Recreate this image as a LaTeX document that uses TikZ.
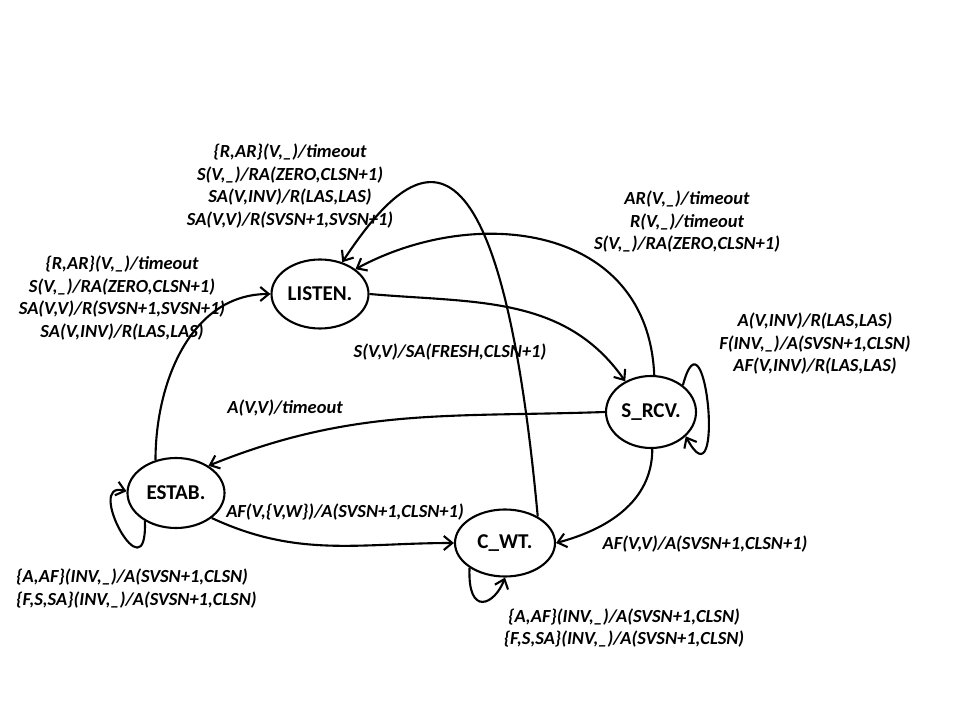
\documentclass[tikz,border=0pt]{standalone}
\usepackage{fontspec}
\setmainfont{Carlito}
\usetikzlibrary{shapes.geometric,arrows.meta}

\tikzset{
  state/.style={draw, ellipse, very thick, inner sep=0pt, minimum width=1.94cm, minimum height=1.38cm,
    font=\fontsize{12}{14}\selectfont\bfseries},
  lbl/.style={font=\fontsize{10.5}{12.8}\selectfont\bfseries\itshape, align=center},
  trans/.style={very thick, -{Straight Barb[length=1.7mm,width=2.8mm]}}
}

\begin{document}
\begin{tikzpicture}
    \useasboundingbox (0,0) rectangle (19.2,14.4);

    % The four states
    \node[state] (listen) at (6.40,8.52) {LISTEN.};
    \node[state, minimum width=1.80cm, minimum height=1.44cm] (srcv) at (13.02,6.16) {S\_RCV.};
    \node[state, minimum height=1.40cm] (estab) at (3.52,4.54) {ESTAB.};
    \node[state, minimum width=2.0cm, minimum height=1.34cm] (cwt) at (10.10,3.54) {C\_WT.};

    % Transitions between states
    \draw[trans] (estab.122) to[out=90,in=180] (listen.west);
    \draw[trans] (listen.east) to[out=-5,in=125] (srcv.130);
    \draw[trans] (srcv.85) .. controls +(-0.13,3.02) and +(2.4,1.3) .. (listen.35);
    \draw[trans] (cwt.39) .. controls +(-0.8,8.64) and +(1.37,2.07) .. (listen.55);
    \draw[trans] (srcv.west) to[out=182,in=22] (estab.40);
    \draw[trans] (estab.-35) to[out=-25,in=180] (cwt.west);
    \draw[trans] (srcv.-88) to[out=-90,in=15] (cwt.east);

    % Self loops
    \draw[trans] (estab.222) .. controls +(0.06,-1.56) and +(-0.86,0.24) .. (estab.178);
    \draw[trans] (cwt.215) .. controls +(-0.04,-1.0) and +(-0.2,-0.54) .. (cwt.-90);
    \draw[trans] (srcv.40) .. controls +(0.46,1.72) and +(0.8,-1.49) .. (srcv.-35);

    % Transition labels
    \node[lbl] (lblcl) at (5.80,10.68) {\{R,AR\}(V,\_)/timeout\\S(V,\_)/RA(ZERO,CLSN+1)\\SA(V,INV)/R(LAS,LAS)\\SA(V,V)/R(SVSN+1,SVSN+1)};
    \node[lbl] (lblel) at (2.44,8.44) {\{R,AR\}(V,\_)/timeout\\S(V,\_)/RA(ZERO,CLSN+1)\\SA(V,V)/R(SVSN+1,SVSN+1)\\SA(V,INV)/R(LAS,LAS)};
    \node[lbl] (lblsl) at (13.74,9.96) {AR(V,\_)/timeout\\R(V,\_)/timeout\\S(V,\_)/RA(ZERO,CLSN+1)};
    \node[lbl] (lblss) at (16.30,7.52) {A(V,INV)/R(LAS,LAS)\\F(INV,\_)/A(SVSN+1,CLSN)\\AF(V,INV)/R(LAS,LAS)};
    \node[lbl] (lblls) at (9.00,7.36) {S(V,V)/SA(FRESH,CLSN+1)};
    \node[lbl] (lblse) at (5.70,6.24) {A(V,V)/timeout};
    \node[lbl] (lblec) at (6.90,4.16) {AF(V,\{V,W\})/A(SVSN+1,CLSN+1)};
    \node[lbl] (lblsc) at (14.10,3.52) {AF(V,V)/A(SVSN+1,CLSN+1)};
    \node[lbl, align=left, anchor=west] (lblee) at (0.20,2.63) {\{A,AF\}(INV,\_)/A(SVSN+1,CLSN)\\\{F,S,SA\}(INV,\_)/A(SVSN+1,CLSN)};
    \node[lbl] (lblcc) at (12.48,1.84) {\{A,AF\}(INV,\_)/A(SVSN+1,CLSN)\\\{F,S,SA\}(INV,\_)/A(SVSN+1,CLSN)};
\end{tikzpicture}
\end{document}
